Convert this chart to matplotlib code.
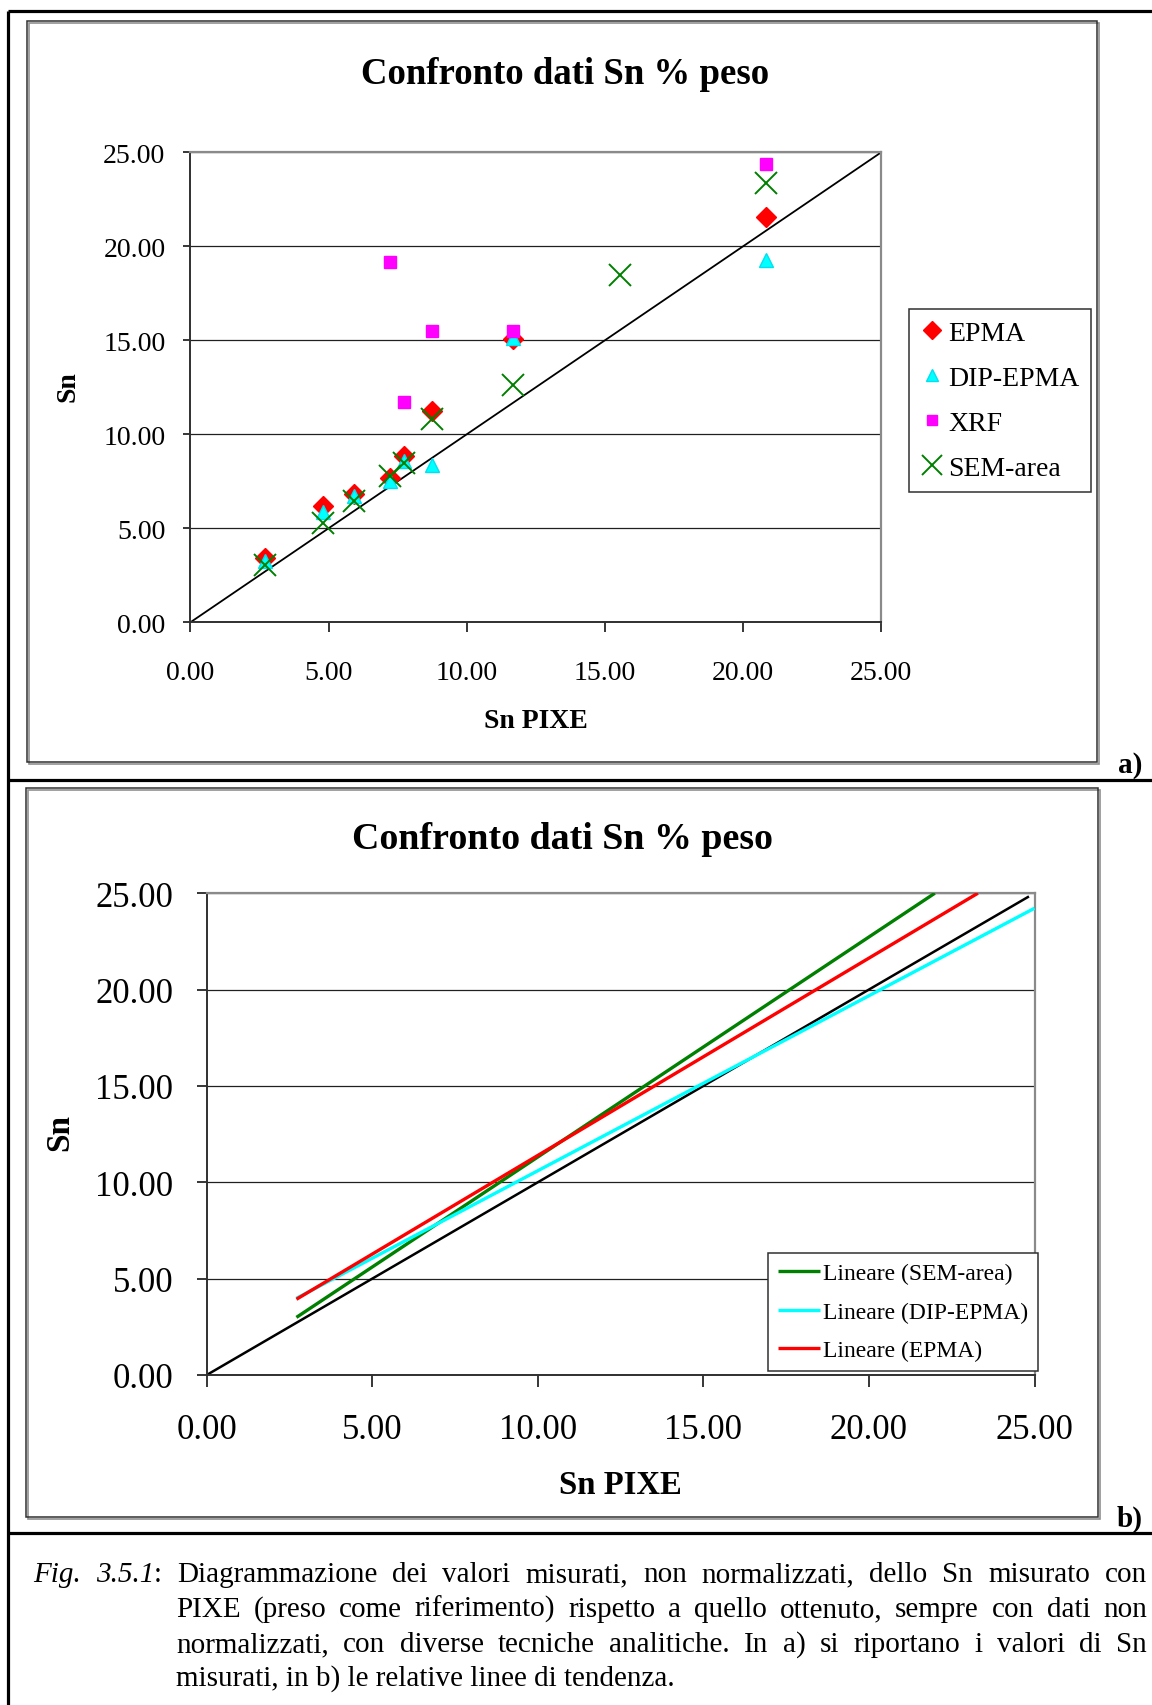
import matplotlib
matplotlib.use('Agg')
import matplotlib.pyplot as plt
from matplotlib.lines import Line2D
from matplotlib.patches import Rectangle

# ---------------- data ----------------
pixe_x = [2.71, 4.80, 5.91, 7.22, 7.72, 8.75, 11.67, 20.83]
epma_y = [3.42, 6.20, 6.82, 7.67, 8.86, 11.22, 15.06, 21.55]
dip_y = [3.24, 5.85, 6.70, 7.50, 8.56, 8.38, 15.11, 19.28]
xrf_x = [7.22, 7.72, 8.76, 11.67, 20.83]
xrf_y = [19.17, 11.73, 15.50, 15.50, 24.38]
sem_x = [2.71, 4.80, 5.91, 7.22, 7.72, 8.75, 11.67, 15.54, 20.83]
sem_y = [3.03, 5.28, 6.43, 7.76, 8.47, 10.81, 12.63, 18.48, 23.35]
ref_a_x = [0, 25]
ref_a_y = [0, 25]

trend_sem_x = [2.71, 21.99]
trend_sem_y = [2.99, 25.0]
trend_dip_x = [2.71, 25.0]
trend_dip_y = [3.98, 24.22]
trend_epma_x = [2.71, 23.29]
trend_epma_y = [3.93, 25.0]
ref_b_x = [0, 24.8]
ref_b_y = [0, 24.8]

ticks = [0, 5, 10, 15, 20, 25]
tick_labels = ["0.00", "5.00", "10.00", "15.00", "20.00", "25.00"]

title = "Confronto dati Sn % peso"
xlabel = "Sn PIXE"
ylabel = "Sn"

caption_lines = [
    [[("Fig.", "italic")], [("3.5.1", "italic"), (":", "normal")], "Diagrammazione", "dei", "valori",
     "misurati,", "non", "normalizzati,", "dello", "Sn", "misurato", "con"],
    ["PIXE", "(preso", "come", "riferimento)", "rispetto", "a", "quello", "ottenuto,", "sempre",
     "con", "dati", "non"],
    ["normalizzati,", "con", "diverse", "tecniche", "analitiche.", "In", "a)", "si", "riportano",
     "i", "valori", "di", "Sn"],
    ["misurati, in b) le relative linee di tendenza."],
]

# ---------------- figure ----------------
W, H = 1152, 1706
DPI = 100
SERIF = ['Liberation Serif', 'DejaVu Serif']
plt.rcParams['font.family'] = SERIF

fig = plt.figure(figsize=(W / DPI, H / DPI), dpi=DPI)
fig.patch.set_facecolor('white')


def fx(x):
    return x / W


def fy(y):
    return 1 - y / H


def px_axes(x0, y0, x1, y1):
    return fig.add_axes([fx(x0), fy(y1), fx(x1) - fx(x0), fy(y0) - fy(y1)])


# outer frame lines
for (xa, ya, xb, yb) in [(8, 12, 8, 1706), (8, 12, 1152, 12), (8, 781, 1152, 781), (8, 1534, 1152, 1534)]:
    fig.add_artist(Line2D([fx(xa), fx(xb)], [fy(ya), fy(yb)], color='black', lw=2.3,
                          transform=fig.transFigure, solid_capstyle='butt'))

# chart area boxes (with a light shadow)
for (x0, y0, x1, y1) in [(27, 22, 1097, 763), (26, 789, 1098, 1518)]:
    fig.add_artist(Rectangle((fx(x0) + 1.5 / W, fy(y1) - 1.5 / H), fx(x1) - fx(x0), fy(y0) - fy(y1),
                             transform=fig.transFigure, fill=False, ec='#909090', lw=1.2))
    fig.add_artist(Rectangle((fx(x0), fy(y1)), fx(x1) - fx(x0), fy(y0) - fy(y1),
                             transform=fig.transFigure, fill=False, ec='#303030', lw=1.1))


def style_axes(ax, fs, ylen, xlen, ypad, xpad):
    ax.set_xlim(0, 25)
    ax.set_ylim(0, 25)
    ax.set_xticks(ticks)
    ax.set_yticks(ticks)
    ax.set_xticklabels(tick_labels)
    ax.set_yticklabels(tick_labels)
    ax.tick_params(axis='x', direction='out', length=xlen, width=1.1, pad=xpad, labelsize=fs, colors='black')
    ax.tick_params(axis='y', direction='out', length=ylen, width=1.1, pad=ypad, labelsize=fs, colors='black')
    for side in ['left', 'bottom']:
        ax.spines[side].set_color('#303030')
        ax.spines[side].set_linewidth(1.4)
    for side in ['top', 'right']:
        ax.spines[side].set_color('#8a8a8a')
        ax.spines[side].set_linewidth(1.6)
    ax.yaxis.grid(True, color='#202020', lw=0.9)
    ax.xaxis.grid(False)
    ax.set_axisbelow(True)


# ---------------- chart a ----------------
axa = px_axes(190.4, 153.4, 881.1, 623.3)
style_axes(axa, 20, 5, 7.2, 13, 20)
axa.plot(ref_a_x, ref_a_y, color='black', lw=1.3, zorder=2)
axa.plot(pixe_x, epma_y, ls='none', marker='D', ms=10, color='#ff0000', mec='#ff0000', label='EPMA', zorder=3)
axa.plot(pixe_x, dip_y, ls='none', marker='^', ms=10, color='#00ffff', mec='#00e0f0', label='DIP-EPMA', zorder=4)
axa.plot(xrf_x, xrf_y, ls='none', marker='s', ms=8.5, color='#ff00ff', mec='#ff00ff', label='XRF', zorder=5)
axa.plot(sem_x, sem_y, ls='none', marker='x', ms=16, mew=1.4, color='#008000', label='SEM-area', zorder=6)
leg = axa.legend(loc='upper left', bbox_to_anchor=(fx(909), fy(310)), bbox_transform=fig.transFigure,
                 fontsize=20, frameon=True, fancybox=False, edgecolor='#303030', framealpha=1,
                 handlelength=0.8, handletextpad=0.2, labelspacing=0.70, borderpad=0.42,
                 borderaxespad=0, markerscale=0.9)
leg.get_frame().set_linewidth(1.1)

fig.text(fx(565), fy(74), title, ha='center', va='center', fontsize=26.5, fontweight='bold')
fig.text(fx(536), fy(721), xlabel, ha='center', va='center', fontsize=20, fontweight='bold')
fig.text(fx(68.5), fy(387), ylabel, ha='center', va='center', fontsize=20, fontweight='bold', rotation=90)
fig.text(fx(1130), fy(766), "a)", ha='center', va='center', fontsize=21, fontweight='bold')

# ---------------- chart b ----------------
axb = px_axes(206.7, 894.2, 1034.5, 1376.0)
style_axes(axb, 25, 7, 8.5, 17, 19)
axb.plot(ref_b_x, ref_b_y, color='black', lw=1.8, zorder=2)
axb.plot(trend_sem_x, trend_sem_y, color='#008000', lw=2.4, label='Lineare (SEM-area)', zorder=3,
         solid_capstyle='butt')
axb.plot(trend_dip_x, trend_dip_y, color='#00ffff', lw=2.4, label='Lineare (DIP-EPMA)', zorder=4,
         solid_capstyle='butt')
axb.plot(trend_epma_x, trend_epma_y, color='#ff0000', lw=2.4, label='Lineare (EPMA)', zorder=5,
         solid_capstyle='butt')
legb = axb.legend(loc='upper left', bbox_to_anchor=(fx(768), fy(1254)), bbox_transform=fig.transFigure,
                  fontsize=17, frameon=True, fancybox=False, edgecolor='#303030', framealpha=1,
                  handlelength=1.8, handletextpad=0.12, labelspacing=0.72, borderpad=0.42,
                  borderaxespad=0)
legb.get_frame().set_linewidth(1.1)

fig.text(fx(562), fy(840), title, ha='center', va='center', fontsize=27.3, fontweight='bold')
fig.text(fx(620), fy(1486), xlabel, ha='center', va='center', fontsize=23.6, fontweight='bold')
fig.text(fx(60), fy(1133), ylabel, ha='center', va='center', fontsize=24, fontweight='bold', rotation=90)
fig.text(fx(1130), fy(1519), "b)", ha='center', va='center', fontsize=21, fontweight='bold')

# ---------------- caption (justified) ----------------
CAP_FS = 21
fig.canvas.draw()
renderer = fig.canvas.get_renderer()


def seg_width(s, style):
    t = fig.text(0, 0, s, fontsize=CAP_FS, style=style)
    w = t.get_window_extent(renderer).width
    t.remove()
    return w


def word_segments(w):
    if isinstance(w, str):
        return [(w, "normal")]
    return w


def word_width(w):
    return sum(seg_width(s, st) for s, st in word_segments(w))


def draw_word(w, x, y):
    for s, st in word_segments(w):
        fig.text(fx(x), fy(y), s, fontsize=CAP_FS, style=st, ha='left', va='baseline')
        x += seg_width(s, st)


baselines = [1582, 1617, 1652, 1686]
lefts = [33, 176, 176, 176]
right = 1147
for i, words in enumerate(caption_lines):
    y = baselines[i]
    x = lefts[i]
    if len(words) == 1:
        draw_word(words[0], x, y)
        continue
    widths = [word_width(w) for w in words]
    gap = (right - x - sum(widths)) / (len(words) - 1)
    for w, wd in zip(words, widths):
        draw_word(w, x, y)
        x += wd + gap

fig.savefig('out.png', dpi=DPI, facecolor='white')
